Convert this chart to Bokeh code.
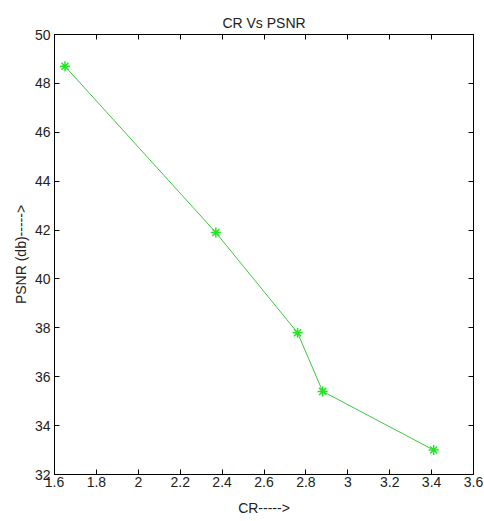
from bokeh.plotting import figure
from bokeh.models import LinearAxis, FixedTicker
from bokeh.embed import file_html
from bokeh.resources import INLINE

cr = [1.65, 2.37, 2.76, 2.88, 3.41]
psnr = [48.7, 41.9, 37.8, 35.4, 33.0]
x_ticks = [1.6, 1.8, 2.0, 2.2, 2.4, 2.6, 2.8, 3.0, 3.2, 3.4, 3.6]
x_tick_labels = ["1.6", "1.8", "2", "2.2", "2.4", "2.6", "2.8", "3", "3.2", "3.4", "3.6"]
y_ticks = [32, 34, 36, 38, 40, 42, 44, 46, 48, 50]

FONT = "'Liberation Sans Narrow', 'Liberation Sans', Arial, sans-serif"

p = figure(width=484, height=521, x_range=(1.6, 3.6), y_range=(32, 50),
           output_backend="svg", toolbar_location=None,
           min_border_left=54, min_border_right=11, min_border_top=34, min_border_bottom=47,
           title="CR Vs PSNR")
p.background_fill_color = "white"
p.border_fill_color = "white"
p.outline_line_color = "black"
p.outline_line_width = 1
p.grid.visible = False

p.title.align = "center"
p.title.text_font = FONT
p.title.text_font_size = "14px"
p.title.text_font_style = "normal"
p.title.text_color = "#222222"
p.title.standoff = 8

for ax in (p.xaxis[0], p.yaxis[0]):
    ax.major_tick_in = 5
    ax.major_tick_out = 0
    ax.minor_tick_in = 0
    ax.minor_tick_out = 0
    ax.axis_line_color = "black"
    ax.major_label_text_font = FONT
    ax.major_label_text_font_size = "14px"
    ax.major_label_text_color = "#222222"
    ax.axis_label_text_font = FONT
    ax.axis_label_text_font_size = "14px"
    ax.axis_label_text_font_style = "normal"
    ax.axis_label_text_color = "#222222"

p.xaxis.ticker = FixedTicker(ticks=x_ticks)
p.xaxis.major_label_overrides = {t: l for t, l in zip(x_ticks, x_tick_labels)}
p.xaxis.axis_label = "CR----->"
p.xaxis.major_label_standoff = 2
p.xaxis.axis_label_standoff = 10
p.yaxis.ticker = FixedTicker(ticks=y_ticks)
p.yaxis.axis_label = "PSNR (db)----->"
p.yaxis.major_label_standoff = 4
p.yaxis.axis_label_standoff = 3

top = LinearAxis(ticker=FixedTicker(ticks=x_ticks), major_tick_in=5, major_tick_out=0,
                 minor_tick_in=0, minor_tick_out=0,
                 major_label_overrides={t: "" for t in x_ticks},
                 major_label_standoff=0)
right = LinearAxis(ticker=FixedTicker(ticks=y_ticks), major_tick_in=5, major_tick_out=0,
                   minor_tick_in=0, minor_tick_out=0,
                   major_label_overrides={t: "" for t in y_ticks},
                   major_label_standoff=0)
p.add_layout(top, "above")
p.add_layout(right, "right")

p.line(cr, psnr, line_color="#3cc83c", line_width=1)
p.scatter(cr, psnr, marker="asterisk", size=10, line_color="#1ee81e", line_width=1.5)

open("out.html", "w").write(file_html(p, INLINE))
